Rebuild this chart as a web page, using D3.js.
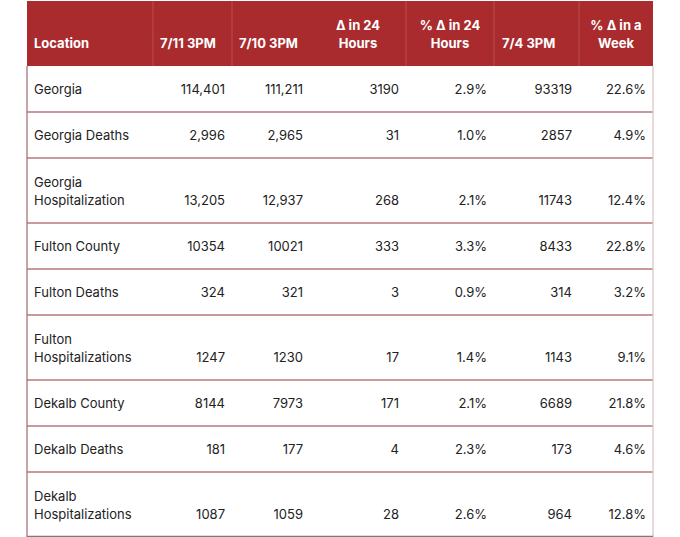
<!DOCTYPE html>
<html><head><meta charset="utf-8">
<script src="https://cdn.jsdelivr.net/npm/d3@7"></script>
<style>html,body{margin:0;padding:0;background:#fff;}svg{display:block;}</style>
</head><body>
<svg id="c" width="680" height="537"></svg>
<script>
const headers = [["Location"],["7/11 3PM"],["7/10 3PM"],["Δ in 24","Hours"],["% Δ in 24","Hours"],["7/4 3PM"],["% Δ in a","Week"]];
const locations = ["Georgia","Georgia Deaths","Georgia Hospitalization","Fulton County","Fulton Deaths","Fulton Hospitalizations","Dekalb County","Dekalb Deaths","Dekalb Hospitalizations"];
const jul11 = ["114,401","2,996","13,205","10354","324","1247","8144","181","1087"];
const jul10 = ["111,211","2,965","12,937","10021","321","1230","7973","177","1059"];
const delta24 = [3190,31,268,333,3,17,171,4,28];
const pct24 = ["2.9%","1.0%","2.1%","3.3%","0.9%","1.4%","2.1%","2.3%","2.6%"];
const jul4 = [93319,2857,11743,8433,314,1143,6689,173,964];
const pctWeek = ["22.6%","4.9%","12.4%","22.8%","3.2%","9.1%","21.8%","4.6%","12.8%"];

// layout
const colWidths = [126,79,78,96,88,85,74];
const X0 = 27, Y0 = 1, headerH = 65, lineH = 18, singleH = 46, extraLine = 19, pad = 7;
const font = "Inter, 'Noto Sans', sans-serif";

const svg = d3.select("#c");
const colEdges = [X0];
colWidths.forEach(w => colEdges.push(colEdges[colEdges.length-1] + w));
const X1 = colEdges[colEdges.length-1];
const colX = d3.scaleOrdinal().domain(d3.range(colWidths.length)).range(colEdges.slice(0,-1));
const colW = d3.scaleOrdinal().domain(d3.range(colWidths.length)).range(colWidths);

// wrap location names by measuring
const meas = svg.append("text").attr("font-family", font).attr("font-size", 13);
function wrap(str, maxW){
  const words = str.split(" "); const lines = []; let cur = "";
  words.forEach(w => {
    const t = cur ? cur + " " + w : w;
    meas.text(t);
    if (meas.node().getComputedTextLength() > maxW && cur){ lines.push(cur); cur = w; }
    else cur = t;
  });
  lines.push(cur); return lines;
}
const locLines = locations.map(s => wrap(s, colWidths[0] - 2*pad - 10));
meas.remove();

const rows = locations.map((l,i) => ({
  lines: locLines[i],
  vals: [jul11[i], jul10[i], String(delta24[i]), pct24[i], String(jul4[i]), pctWeek[i]]
}));
const rowH = rows.map(r => singleH + (r.lines.length-1)*extraLine);
const rowTops = [Y0 + headerH];
rowH.forEach(h => rowTops.push(rowTops[rowTops.length-1] + h));
const yBot = d3.scaleOrdinal().domain(d3.range(rows.length)).range(rowTops.slice(1));
const Y1 = rowTops[rowTops.length-1];

// header
svg.append("rect").attr("x", X0).attr("y", Y0).attr("width", X1-X0).attr("height", headerH).attr("fill", "#a92b2e");
svg.append("g").selectAll("line").data([1,2,4,5,6]).join("line")
  .attr("x1", d => colEdges[d]).attr("x2", d => colEdges[d])
  .attr("y1", Y0).attr("y2", Y0+headerH)
  .attr("stroke", "#b94c4f").attr("stroke-width", 1);

const hg = svg.append("g").attr("font-family", font).attr("font-size", 13).attr("font-weight", 700).attr("fill", "#fff");
headers.forEach((h,j) => {
  const multi = h.length > 1;
  const baseBot = Y0 + headerH - 18.5;
  h.forEach((ln,k) => {
    hg.append("text")
      .attr("x", multi ? colX(j) + colW(j)/2 : colX(j) + pad + (j===5?1:0))
      .attr("y", baseBot - (h.length-1-k)*lineH)
      .attr("text-anchor", multi ? "middle" : "start")
      .text(ln);
  });
});

// body
const bg = svg.append("g").attr("font-family", font).attr("font-size", 13).attr("fill", "#222");
rows.forEach((r,i) => {
  const base = yBot(i) - 18.5;
  r.lines.forEach((ln,k) => {
    bg.append("text").attr("x", X0 + pad).attr("y", base - (r.lines.length-1-k)*lineH).text(ln);
  });
  r.vals.forEach((v,j) => {
    bg.append("text").attr("x", colX(j+1) + colW(j+1) - pad).attr("y", base)
      .attr("text-anchor", "end").text(v);
  });
});

// row lines
svg.append("g").selectAll("line").data(d3.range(rows.length-1)).join("line")
  .attr("x1", X0).attr("x2", X1)
  .attr("y1", d => yBot(d)).attr("y2", d => yBot(d))
  .attr("stroke", "#b9777c").attr("stroke-width", 1.3);
// outer borders
svg.append("line").attr("x1", X0).attr("x2", X0).attr("y1", Y0+headerH).attr("y2", Y1).attr("stroke", "#a8757a").attr("stroke-width", 1.3);
svg.append("line").attr("x1", X1).attr("x2", X1).attr("y1", Y0+headerH).attr("y2", Y1).attr("stroke", "#dcc6c8").attr("stroke-width", 1.3);
svg.append("line").attr("x1", X0).attr("x2", X1).attr("y1", Y1-0.5).attr("y2", Y1-0.5).attr("stroke", "#7a7a7a").attr("stroke-width", 1.3);
</script>
</body></html>
